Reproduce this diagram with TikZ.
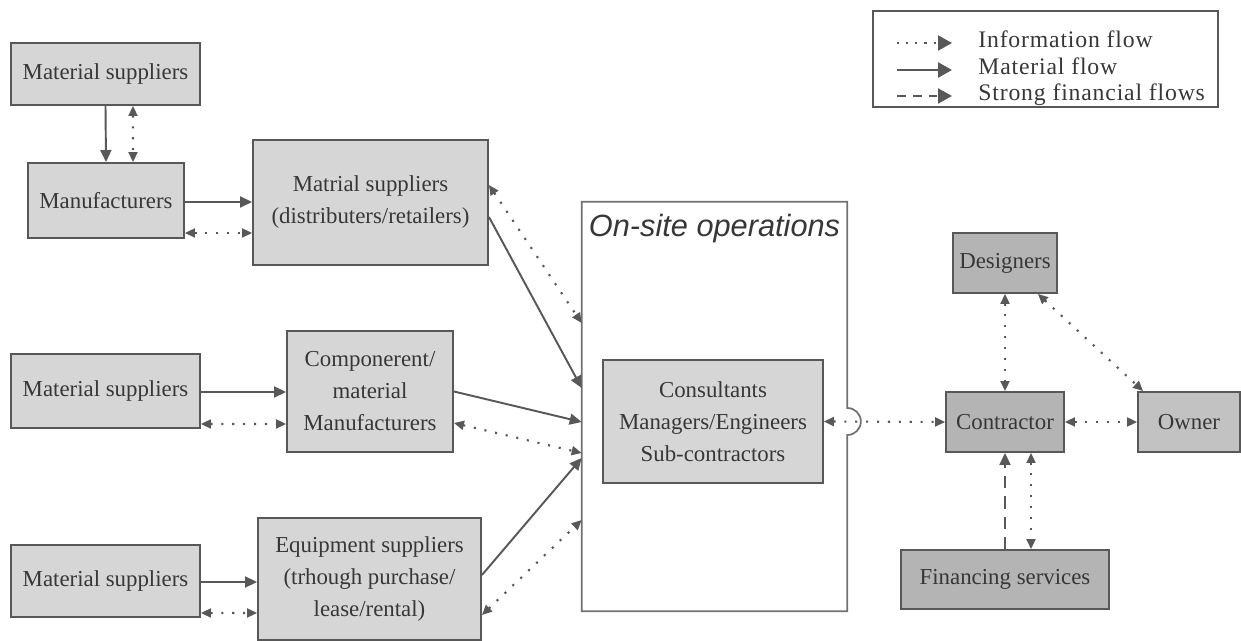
\documentclass[tikz,border=0pt]{standalone}
\usepackage{fontspec}
\setmainfont{Liberation Serif}
\setsansfont{Liberation Sans}
\newfontfamily\leyfuente[LetterSpace=3.5]{Liberation Serif}
\usepackage{xcolor}
\usepackage{tikz}
\usetikzlibrary{positioning,arrows.meta,calc}
\definecolor{cajaclara}{RGB}{214,214,214}
\definecolor{cajaoscura}{RGB}{180,180,180}
\definecolor{cajamedia}{RGB}{194,194,194}
\definecolor{gristrazo}{RGB}{88,88,88}
\definecolor{gristexto}{RGB}{55,55,55}

\begin{document}
\begin{tikzpicture}[
  caja/.style={draw=gristrazo, fill=#1, line width=1.1pt, inner sep=2pt,
    align=center, text=gristexto, font=\fontsize{13}{18.2}\selectfont},
  borde/.style={draw=gristrazo!85, line width=1pt},
  material/.style={-{Triangle[length=2.4mm,width=2.2mm]}, line width=1.1pt,
    gristrazo},
  info/.style={{Triangle[length=2mm,width=1.8mm]}-{Triangle[length=2mm,width=1.8mm]},
    line width=1.2pt, dash pattern=on 1.2pt off 5pt, gristrazo},
  finanzas/.style={-{Triangle[length=2.4mm,width=2.2mm]}, line width=1.1pt,
    dash pattern=on 7pt off 4.5pt, gristrazo},
  ley/.style={-{Triangle[length=2.8mm,width=3mm]}, line width=1.4pt, gristrazo},
  leytexto/.style={anchor=base west, inner sep=0pt, text=gristexto,
    font=\leyfuente\fontsize{13.5}{15}\selectfont},
]
  \useasboundingbox (0,0) rectangle (24.82,12.82);
  % Proveedores (izquierda)
  \node[caja=cajaclara, minimum width=3.78cm, minimum height=1.24cm] (sum1) at (2.11,11.34)
    {Material suppliers};
  \node[caja=cajaclara, minimum width=3.12cm, minimum height=1.50cm] (fab) at (2.12,8.81)
    {Manufacturers};
  \node[caja=cajaclara, minimum width=4.70cm, minimum height=2.50cm] (dist) at (7.41,8.77)
    {Matrial suppliers\\(distributers/retailers)};
  \node[caja=cajaclara, minimum width=3.78cm, minimum height=1.48cm] (sum2) at (2.11,5.00)
    {Material suppliers};
  \node[caja=cajaclara, minimum width=3.32cm, minimum height=2.42cm] (comp) at (7.40,4.99)
    {Componerent/\\material\\Manufacturers};
  \node[caja=cajaclara, minimum width=3.78cm, minimum height=1.44cm] (sum3) at (2.11,1.20)
    {Material suppliers};
  \node[caja=cajaclara, minimum width=4.46cm, minimum height=2.44cm] (equipo) at (7.39,1.24)
    {Equipment suppliers\\(trhough purchase/\\lease/rental)};
  % Obra
  \node[minimum width=5.30cm, minimum height=8.18cm] (obra) at (14.29,4.69) {};
  \node[caja=cajaclara, minimum width=4.40cm, minimum height=2.46cm] (cons) at (14.26,4.39)
    {Consultants\\Managers/Engineers\\Sub-contractors};
  \coordinate (salto) at (obra.east |- cons.east);
  \draw[borde] (obra.north west) -- (obra.north east) -- ([yshift=0.27cm]salto)
    arc[start angle=90, end angle=-90, radius=0.27cm] -- (obra.south east)
    -- (obra.south west) -- cycle;
  \node[font=\sffamily\itshape\fontsize{17.5}{20}\selectfont, text=gristexto,
    anchor=north, inner sep=0pt] (titulo) at ([yshift=-0.24cm]obra.north)
    {On-site operations};
  % Cliente y contratista
  \node[caja=cajaoscura, minimum width=2.08cm, minimum height=1.20cm] (disen) at (20.10,7.56)
    {Designers};
  \node[caja=cajaoscura, minimum width=2.36cm, minimum height=1.20cm] (contr) at (20.10,4.38)
    {Contractor};
  \node[caja=cajamedia, minimum width=2.04cm, minimum height=1.20cm] (dueno) at (23.78,4.38)
    {Owner};
  \node[caja=cajaoscura, minimum width=4.16cm, minimum height=1.18cm] (finan) at (20.10,1.23)
    {Financing services};
  % Flujos de material
  \draw[material] (sum1.south) -- (fab.north);
  \foreach \a/\sa/\b/\sb in {fab/-0.03/dist/0.01, sum2/-0.02/comp/-0.01,
      sum3/-0.02/equipo/-0.06, dist/-0.29/obra/0.37, comp/0/obra/-0.31,
      equipo/0.08/obra/-1.03}
    \draw[material] ([yshift=\sa cm]\a.east) -- ([yshift=\sb cm]\b.west);
  % Flujos de informacion
  \draw[info] ([xshift=0.55cm]sum1.south) -- ([xshift=0.54cm]fab.north);
  \foreach \a/\sa/\b/\sb in {fab/-0.65/dist/-0.61, sum2/-0.66/comp/-0.65,
      sum3/-0.64/equipo/-0.68, dist/0.35/obra/1.67, comp/-0.63/obra/-0.93,
      equipo/-0.72/obra/-2.27, cons/0/contr/0, contr/0/dueno/0}
    \draw[info] ([yshift=\sa cm]\a.east) -- ([yshift=\sb cm]\b.west);
  \draw[info] (disen.south) -- (contr.north);
  \draw[info] ([xshift=-0.40cm]disen.south east) -- ([xshift=0.12cm]dueno.north west);
  \draw[info] ([xshift=0.52cm]contr.south) -- ([xshift=0.52cm]finan.north);
  % Flujo financiero
  \draw[finanzas] (finan.north) -- (contr.south);
  % Leyenda
  \node[draw=gristrazo, line width=1pt, minimum width=6.90cm, minimum height=1.92cm]
    (leyenda) at (20.91,11.64) {};
  \coordinate (ley1a) at (17.94,11.96);
  \coordinate (ley1b) at (19.04,11.96);
  \coordinate (ley2a) at (17.94,11.42);
  \coordinate (ley2b) at (19.04,11.42);
  \coordinate (ley3a) at (17.94,10.90);
  \coordinate (ley3b) at (19.04,10.90);
  \draw[ley, line width=1.2pt, dash pattern=on 1.2pt off 4pt] (ley1a) -- (ley1b);
  \draw[ley, line width=1.6pt] (ley2a) -- (ley2b);
  \draw[ley, dash pattern=on 5pt off 4pt] (ley3a) -- (ley3b);
  \node[leytexto] (ley1) at (19.56,11.86) {Information flow};
  \node[leytexto] (ley2) at (19.56,11.33) {Material flow};
  \node[leytexto] (ley3) at (19.56,10.80) {Strong financial flows};
\end{tikzpicture}
\end{document}
